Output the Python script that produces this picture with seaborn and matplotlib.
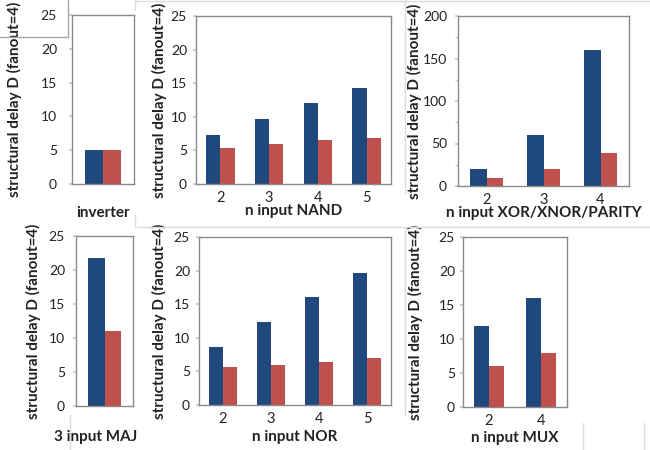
import numpy as np
import pandas as pd
import seaborn as sns
import matplotlib.pyplot as plt
from matplotlib.lines import Line2D
from matplotlib.ticker import MultipleLocator

# values (blue series, red series)
inv_cats = [""]
inv_blue = [5.0]
inv_red = [5.0]

nand_cats = ["2", "3", "4", "5"]
nand_blue = [7.3, 9.6, 12.0, 14.3]
nand_red = [5.4, 6.0, 6.5, 6.9]

xor_cats = ["2", "3", "4"]
xor_blue = [20, 60, 160]
xor_red = [10, 20, 39]

maj_cats = [""]
maj_blue = [21.8]
maj_red = [11.0]

nor_cats = ["2", "3", "4", "5"]
nor_blue = [8.7, 12.3, 16.1, 19.6]
nor_red = [5.6, 5.9, 6.4, 7.0]

mux_cats = ["2", "4"]
mux_blue = [11.9, 16.1]
mux_red = [6.0, 8.0]

BLUE = "#1F497D"
RED = "#C0504D"
YLABEL = "structural delay D (fanout=4)"

sns.set_theme(style="white")
plt.rcParams["font.family"] = ["Lato", "DejaVu Sans"]

W, H = 650, 450
fig = plt.figure(figsize=(W / 100, H / 100), dpi=100)


def make_df(cats, blue, red):
    return pd.DataFrame({
        "n": cats * 2,
        "delay": blue + red,
        "series": ["blue"] * len(cats) + ["red"] * len(cats),
    })


def panel(box, cats, blue, red, xlabel, ylim, step, xlab_y, ylab_x, ypad,
          xlab_x=None, minor=None):
    l, t, r, b = box
    ax = fig.add_axes([l / W, 1 - b / H, (r - l) / W, (b - t) / H])
    sns.barplot(data=make_df(cats, blue, red), x="n", y="delay", hue="series",
                palette=[BLUE, RED], width=0.58, legend=False, ax=ax,
                saturation=1, edgecolor="none")
    ax.set_ylim(0, ylim)
    ax.set_xlim(-0.5, len(cats) - 0.5)
    ax.yaxis.set_major_locator(MultipleLocator(step))
    if minor:
        ax.yaxis.set_minor_locator(MultipleLocator(minor))
    for s in ax.spines.values():
        s.set_color("#8a8a8a")
        s.set_linewidth(1.0)
    # ypad is the gap in pixels between the spine and the tick label
    ax.tick_params(axis="y", which="both", left=True, length=2.5, color="#c8c8c8",
                   pad=(ypad - 3.5) / 1.39, labelsize=10, labelcolor="#222222")
    ax.tick_params(axis="x", length=0, pad=5, labelsize=10.5, labelcolor="#222222")
    ax.set_xlabel(xlabel, fontsize=11, fontweight="bold", color="#222222")
    ax.set_ylabel(YLABEL, fontsize=11, fontweight="bold", color="#222222")
    hpx, wpx = b - t, r - l
    xc = 0.5 if xlab_x is None else (xlab_x - l) / wpx
    ax.xaxis.set_label_coords(xc, -(xlab_y - b) / hpx)
    ax.xaxis.label.set_va("center")
    ax.yaxis.set_label_coords(-(l - ylab_x) / wpx, 0.5)
    ax.yaxis.label.set_va("center")
    return ax


panel((72, 15, 134, 184), inv_cats, inv_blue, inv_red, "inverter",
      25, 5, 213, 14, 15)
panel((196, 16, 391, 184), nand_cats, nand_blue, nand_red, "n input NAND",
      25, 5, 211, 159, 9)
panel((458, 16, 629, 186), xor_cats, xor_blue, xor_red, "n input XOR/XNOR/PARITY",
      200, 50, 213, 414, 11, minor=25)
panel((76, 236, 133, 406), maj_cats, maj_blue, maj_red, "3 input MAJ",
      25, 5, 437, 33, 11, xlab_x=96)
panel((199, 237, 391, 405), nor_cats, nor_blue, nor_red, "n input NOR",
      25, 5, 437, 159, 9)
panel((463, 237, 567, 407), mux_cats, mux_blue, mux_red, "n input MUX",
      25, 5, 438, 415, 8)

# faint layout lines from the original screenshot
def seg(x0, y0, x1, y1, color="#dddddd"):
    fig.add_artist(Line2D([x0 / W, x1 / W], [1 - y0 / H, 1 - y1 / H],
                          color=color, lw=1, transform=fig.transFigure))

seg(0, 37, 68, 37, "#a8a8a8")
seg(68, 0, 68, 37, "#a8a8a8")
seg(135, 1, 650, 1)
seg(135, 0, 135, 10)
seg(405, 0, 405, 193)
seg(137, 227, 650, 227)
seg(135, 215, 135, 227)
seg(405, 228, 405, 415)
seg(70, 415, 70, 450)
seg(583, 423, 583, 450)
seg(644, 423, 644, 450)

fig.savefig("out.png", dpi=100)
